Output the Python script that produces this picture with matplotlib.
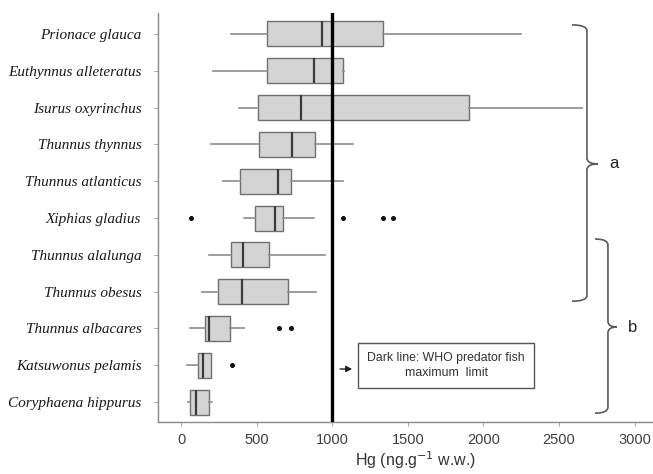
import numpy as np
import matplotlib
matplotlib.use("Agg")
import matplotlib.pyplot as plt
from matplotlib.path import Path
from matplotlib.patches import PathPatch

# Hg concentrations (ng/g w.w.), top row first
species = ["Prionace glauca", "Euthynnus alleteratus", "Isurus oxyrinchus",
           "Thunnus thynnus", "Thunnus atlanticus", "Xiphias gladius",
           "Thunnus alalunga", "Thunnus obesus", "Thunnus albacares",
           "Katsuwonus pelamis", "Coryphaena hippurus"]
whislo = [331, 211, 384, 198, 278, 417, 185, 139, 60, 40, 46]
q1 = [569, 569, 509, 516, 390, 489, 331, 245, 159, 112, 60]
med = [933, 880, 794, 734, 641, 622, 410, 403, 185, 146, 99]
q3 = [1336, 1071, 1905, 886, 728, 675, 582, 708, 324, 198, 185]
whishi = [2249, 1075, 2652, 1138, 1071, 880, 952, 893, 417, 200, 205]
fliers = [[], [], [], [], [], [66, 1071, 1336, 1402], [], [],
          [648, 727], [337], []]

WHO_LIMIT = 1000

fig = plt.figure(figsize=(6.53, 4.74), dpi=100)
ax = fig.add_axes([0.242, 0.1097, 0.758, 0.863])

pos = np.arange(1, len(species) + 1)
stats = [dict(whislo=a, q1=b, med=c, q3=d, whishi=e, fliers=f)
         for a, b, c, d, e, f in zip(whislo, q1, med, q3, whishi, fliers)]
ax.bxp(stats, positions=pos, vert=False, widths=0.68, patch_artist=True,
       showcaps=False,
       boxprops=dict(facecolor="#d4d4d4", edgecolor="#707070", lw=1.0),
       whiskerprops=dict(color="#8c8c8c", lw=1.2),
       medianprops=dict(color="#3a3a3a", lw=1.6),
       flierprops=dict(marker="o", markersize=2.6, markerfacecolor="#111111",
                       markeredgecolor="#111111"))

ax.axvline(WHO_LIMIT, color="black", lw=2.4, zorder=5)

ax.set_xlim(-152, 3122)
ax.set_ylim(11.54, 0.43)
ax.set_xticks(np.arange(0, 3001, 500))
ax.set_yticks(pos)
ax.set_yticklabels(species, fontfamily="Liberation Serif", fontstyle="italic",
                   fontsize=11, color="#1a1a1a")
for lab in ax.get_xticklabels():
    lab.set_fontfamily("Liberation Sans")
ax.tick_params(axis="x", labelsize=10.5, labelcolor="#404040", color="#aaaaaa",
               length=3, pad=5)
ax.tick_params(axis="y", color="#aaaaaa", length=3, pad=9)

for s in ["top", "right"]:
    ax.spines[s].set_visible(False)
for s in ["left", "bottom"]:
    ax.spines[s].set_color("#8a8a8a")
    ax.spines[s].set_linewidth(1.0)

ax.set_xlabel("Hg (ng.g$^{-1}$ w.w.)", fontfamily="Liberation Sans",
              fontsize=11.5, color="#333333")
ax.xaxis.set_label_coords(0.52, -0.066)


def brace(x0, x1, x2, yt, ym, yb, r=0.16):
    verts = [(x0, yt), (x1, yt), (x1, yt + r),
             (x1, ym - r), (x1, ym), (x2, ym),
             (x1, ym), (x1, ym + r),
             (x1, yb - r), (x1, yb), (x0, yb)]
    codes = [Path.MOVETO, Path.CURVE3, Path.CURVE3,
             Path.LINETO, Path.CURVE3, Path.CURVE3,
             Path.CURVE3, Path.CURVE3,
             Path.LINETO, Path.CURVE3, Path.CURVE3]
    ax.add_patch(PathPatch(Path(verts, codes), fill=False, ec="#5a5a5a",
                           lw=1.2, clip_on=False))


brace(2586, 2685, 2758, 0.755, 4.53, 8.26)
brace(2738, 2824, 2883, 6.57, 8.96, 11.3)
ax.text(2830, 4.53, "a", fontfamily="Liberation Sans", fontsize=12,
        va="center", ha="left", color="#222222")
ax.text(2955, 8.96, "b", fontfamily="Liberation Sans", fontsize=12,
        va="center", ha="left", color="#222222")

ax.text(1753, 10.0, "Dark line: WHO predator fish\nmaximum  limit",
        fontfamily="Liberation Sans", fontsize=8.8, ha="center", va="center",
        color="#333333", linespacing=1.35,
        bbox=dict(boxstyle="square,pad=0.75", fc="white", ec="#555555", lw=1.0))
ax.annotate("", xy=(1132, 10.1), xytext=(1052, 10.1),
            arrowprops=dict(arrowstyle="-|>,head_width=0.18,head_length=0.35",
                            color="#222222", lw=1.0, shrinkA=0, shrinkB=0))

fig.savefig("out.png", dpi=100)
